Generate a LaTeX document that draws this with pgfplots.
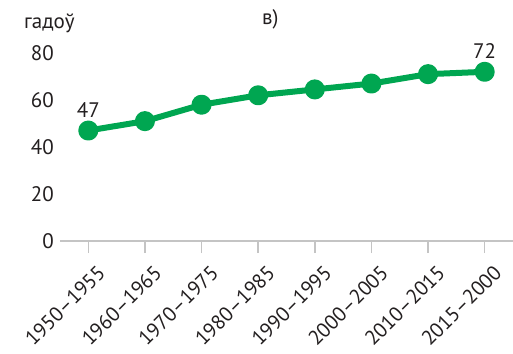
\documentclass[border=0pt]{standalone}
\usepackage{pgfplots}
\pgfplotsset{compat=1.18}
\usepackage{fontspec}
\setmainfont{PT Sans}
\definecolor{lgreen}{HTML}{00A651}
\definecolor{gridg}{HTML}{C4C4C4}
\definecolor{txt}{HTML}{231F20}
\begin{document}
\begin{tikzpicture}[x=1pt,y=1pt]
\useasboundingbox (0,0) rectangle (513,353);
\begin{axis}[
  at={(60pt,112pt)}, anchor=south west,
  scale only axis, width=453pt, height=188pt,
  xmin=-0.5, xmax=7.5, ymin=0, ymax=80,
  clip=false,
  axis x line*=bottom, axis y line=none,
  x axis line style={gridg, line width=1.5pt, -},
  xtick={0,...,7},
  xticklabels={1950–1955,1960–1965,1970–1975,1980–1985,1990–1995,2000–2005,2010–2015,2015–2000},
  xticklabel style={rotate=45, anchor=north east, font=\fontsize{20.5}{24}\selectfont, text=txt, inner sep=1pt, yshift=-12pt, xshift=-1pt},
  major tick length=12pt,
  tick align=outside,
  x tick style={gridg, line width=1.5pt},
  ytick={0,20,...,80},
  ymajorgrids,
  grid style={gridg, line width=1.5pt},
  yticklabels={},
]
\addplot[lgreen, line width=6pt, line join=round, mark=*, mark size=7pt, mark options={draw=none, fill=lgreen}]
  coordinates {(0,47) (1,51) (2,58) (3,62) (4,64.5) (5,67) (6,71) (7,72)};
\foreach \v in {0,20,40,60,80} {
  \edef\tmp{\noexpand\node[anchor=east, text=txt, font=\noexpand\fontsize{21}{24}\noexpand\selectfont, inner sep=0pt] at (axis cs:-0.5,\v) [xshift=-6pt] {\v};}
  \tmp
}
\node[text=txt, font=\fontsize{21}{24}\selectfont, anchor=south] at (axis cs:0,47) [yshift=10pt] {47};
\node[text=txt, font=\fontsize{21}{24}\selectfont, anchor=south] at (axis cs:7,72) [yshift=10pt] {72};
\end{axis}
\node[text=txt, font=\fontsize{21}{24}\selectfont, anchor=west, inner sep=0pt] at (24,330) {гадоў};
\node[text=txt, font=\fontsize{21}{24}\selectfont, anchor=west, inner sep=0pt] at (262,334) {в)};
\end{tikzpicture}
\end{document}
